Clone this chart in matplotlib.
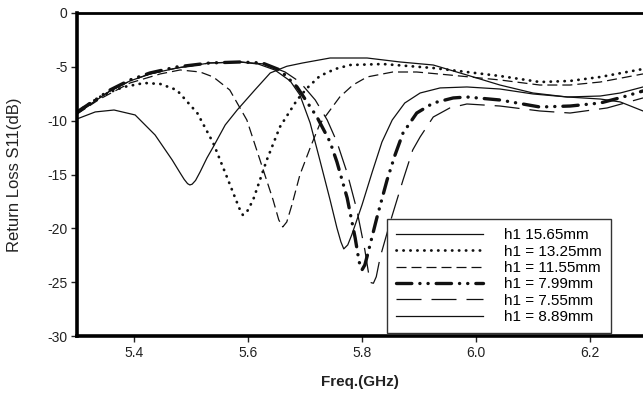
import numpy as np
import matplotlib
matplotlib.use('Agg')
import matplotlib.pyplot as plt

plt.rcParams['font.family'] = ['Liberation Sans', 'DejaVu Sans']
plt.rcParams['axes.unicode_minus'] = False

# h1 = 15.65mm
f_1565 = [5.300, 5.332, 5.365, 5.402, 5.437, 5.467, 5.481, 5.488, 5.494, 5.498, 5.502, 5.508,
          5.516, 5.528, 5.539, 5.560, 5.581, 5.612, 5.639, 5.668, 5.696, 5.744, 5.809, 5.867,
          5.925, 5.984, 6.042, 6.100, 6.160, 6.218, 6.253, 6.293]
s_1565 = [-9.84, -9.19, -9.01, -9.47, -11.33, -13.65, -14.86, -15.45, -15.85, -15.97, -15.90, -15.55,
          -14.76, -13.46, -12.44, -10.40, -9.01, -7.15, -5.57, -4.95, -4.64, -4.18, -4.18, -4.55,
          -4.83, -5.76, -6.69, -7.43, -7.80, -7.99, -8.26, -9.10]

# h1 = 13.25mm
f_1325 = [5.300, 5.323, 5.340, 5.358, 5.382, 5.418, 5.446, 5.475, 5.511, 5.539, 5.563, 5.581,
          5.586, 5.591, 5.598, 5.609, 5.633, 5.656, 5.686, 5.704, 5.726, 5.753, 5.779, 5.837,
          5.925, 5.984, 6.042, 6.112, 6.165, 6.218, 6.293]
s_1325 = [-9.19, -8.36, -7.80, -7.34, -6.87, -6.50, -6.59, -7.15, -9.29, -12.07, -15.23, -17.64,
          -18.29, -18.76, -18.48, -17.36, -13.65, -10.58, -8.08, -6.96, -5.85, -5.20, -4.83, -4.74,
          -5.11, -5.48, -5.85, -6.41, -6.31, -5.94, -5.20]

# h1 = 11.55mm
f_1155 = [5.300, 5.340, 5.393, 5.446, 5.481, 5.516, 5.539, 5.568, 5.598, 5.621, 5.644, 5.654,
          5.661, 5.668, 5.677, 5.691, 5.709, 5.726, 5.761, 5.784, 5.809, 5.854, 5.896, 5.954,
          6.042, 6.112, 6.165, 6.218, 6.293]
s_1155 = [-9.38, -7.99, -6.50, -5.66, -5.29, -5.48, -5.94, -7.15, -9.94, -13.65, -17.36, -19.22,
          -19.87, -19.41, -17.83, -15.04, -12.53, -10.31, -7.80, -6.69, -5.94, -5.48, -5.48, -5.76,
          -6.22, -6.69, -6.69, -6.41, -5.66]

# h1 = 7.99mm
f_799 = [5.300, 5.332, 5.358, 5.393, 5.428, 5.475, 5.533, 5.586, 5.625, 5.656, 5.686, 5.721,
         5.744, 5.756, 5.774, 5.788, 5.795, 5.800, 5.805, 5.811, 5.826, 5.844, 5.858, 5.872,
         5.896, 5.925, 5.960, 5.984, 6.042, 6.112, 6.165, 6.218, 6.258, 6.293]
s_799 = [-9.19, -8.08, -7.15, -6.22, -5.57, -5.01, -4.64, -4.55, -4.64, -5.29, -6.87, -9.66,
         -11.98, -13.83, -17.18, -20.89, -23.12, -23.86, -23.40, -22.19, -19.03, -15.51, -13.18, -11.14,
         -9.29, -8.36, -7.89, -7.80, -8.08, -8.73, -8.64, -8.36, -7.80, -7.24]

# h1 = 7.55mm
f_755 = [5.300, 5.332, 5.358, 5.393, 5.428, 5.475, 5.533, 5.586, 5.630, 5.665, 5.691, 5.718,
         5.739, 5.756, 5.774, 5.791, 5.805, 5.812, 5.816, 5.820, 5.825, 5.832, 5.849, 5.872,
         5.889, 5.902, 5.925, 5.954, 5.984, 6.042, 6.112, 6.165, 6.230, 6.293]
s_755 = [-9.38, -8.17, -7.24, -6.31, -5.66, -5.11, -4.64, -4.55, -4.74, -5.48, -6.41, -8.08,
         -9.94, -11.98, -14.86, -18.29, -22.01, -24.33, -25.05, -25.10, -24.50, -22.66, -19.50, -15.51,
         -12.72, -11.51, -9.66, -8.82, -8.45, -8.64, -9.10, -9.29, -8.82, -7.89]

# h1 = 8.89mm
f_889 = [5.300, 5.332, 5.358, 5.393, 5.428, 5.475, 5.533, 5.586, 5.618, 5.647, 5.674, 5.691,
         5.709, 5.726, 5.744, 5.756, 5.763, 5.768, 5.775, 5.782, 5.800, 5.818, 5.835, 5.853,
         5.875, 5.902, 5.937, 5.984, 6.042, 6.100, 6.160, 6.218, 6.253, 6.293]
s_889 = [-9.29, -8.17, -7.24, -6.31, -5.66, -5.11, -4.64, -4.55, -4.74, -5.29, -6.31, -7.61,
         -10.21, -13.65, -17.36, -19.96, -21.26, -21.91, -21.54, -20.61, -17.83, -14.76, -11.98, -9.94,
         -8.36, -7.43, -6.96, -6.87, -7.06, -7.52, -7.80, -7.71, -7.43, -6.87]

labels = ['h1 15.65mm', 'h1 = 13.25mm', 'h1 = 11.55mm', 'h1 = 7.99mm', 'h1 = 7.55mm', 'h1 = 8.89mm']
x_ticks = [5.4, 5.6, 5.8, 6.0, 6.2]
y_ticks = [0, -5, -10, -15, -20, -25, -30]

fig = plt.figure(figsize=(6.43, 3.95), dpi=100)
ax = fig.add_axes([77/643, 59/395, 570/643, 323/395])

k = '#111111'
ax.plot(f_1565, s_1565, color=k, lw=0.9, label=labels[0])
ax.plot(f_1325, s_1325, color=k, lw=2.0, linestyle=(0, (0.1, 2.4)), dash_capstyle='round',
        label=labels[1])
ax.plot(f_1155, s_1155, color=k, lw=0.9, linestyle=(0, (8, 4)), label=labels[2])
ax.plot(f_799, s_799, color=k, lw=2.4, linestyle=(0, (4.6, 2.4, 0.05, 2.4, 0.05, 2.4)),
        dash_capstyle='round', label=labels[3])
ax.plot(f_755, s_755, color=k, lw=0.9, linestyle=(0, (20, 8)), label=labels[4])
ax.plot(f_889, s_889, color=k, lw=0.9, label=labels[5])

ax.set_xlim(5.3, 6.3)
ax.set_ylim(-30, 0)
ax.set_xticks(x_ticks)
ax.set_xticklabels(['%.1f' % t for t in x_ticks])
ax.set_yticks(y_ticks)
ax.set_yticklabels([str(t) for t in y_ticks])
ax.tick_params(direction='out', length=4, width=1, labelsize=10, colors='#222222', pad=3)

for side in ['left', 'bottom']:
    ax.spines[side].set_linewidth(2.6)
ax.spines['top'].set_linewidth(2.0)
ax.spines['right'].set_visible(False)

ax.set_xlabel('Freq.(GHz)', fontsize=11, fontweight='bold', color='#222222')
ax.set_ylabel('Return Loss S11(dB)', fontsize=12, color='#222222')
ax.xaxis.set_label_coords(0.496, -0.12)
ax.yaxis.set_label_coords(-0.097, 0.5)

leg = ax.legend(loc='lower left', bbox_to_anchor=(0.544, 0.009), borderaxespad=0,
                fontsize=11, handlelength=5.7, handletextpad=1.37, borderpad=0.6,
                labelspacing=0.15, fancybox=False, framealpha=1, edgecolor='#333333')
leg.get_frame().set_linewidth(1.0)

fig.savefig('out.png', dpi=100)
